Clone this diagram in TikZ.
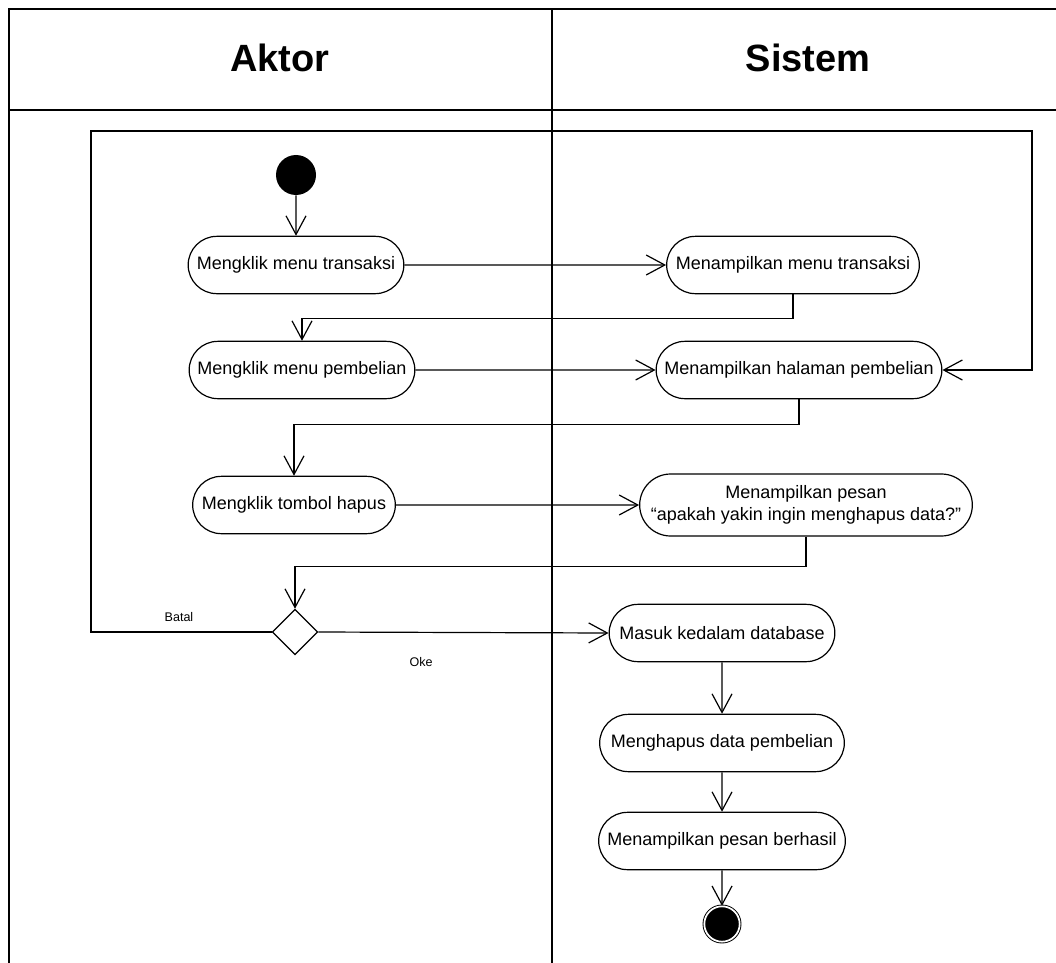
\documentclass[tikz,border=0pt]{standalone}
\usepackage{fontspec}
\setmainfont{Liberation Sans}
\usetikzlibrary{arrows.meta,shapes.misc,shapes.geometric}

\begin{document}
\begin{tikzpicture}[x=0.75pt,y=-0.75pt,
  aksi/.style={draw,rounded rectangle,line width=0.9pt,minimum height=43pt,inner xsep=2pt,
    font=\fontsize{13.5}{16}\selectfont,align=center},
  mulai/.style={circle,fill=black,minimum size=30pt,inner sep=0pt},
  akhir/.style={circle,draw,fill=black,double,double distance=1.3pt,line width=0.7pt,
    minimum size=26.5pt,inner sep=0pt},
  pilih/.style={diamond,draw,line width=0.9pt,minimum width=34pt,minimum height=34pt,inner sep=0pt},
  alur/.style={line width=0.9pt,-{Straight Barb[length=14pt,width=15pt]}},
  garis/.style={line width=1.1pt},
  judul/.style={font=\fontsize{28.5}{34}\selectfont\bfseries},
  ket/.style={font=\fontsize{9.4}{11}\selectfont}]

\useasboundingbox (0,0) rectangle (1056,963);

% swimlane
\draw[garis] (9,963) -- (9,9) -- (1056,9);
\draw[garis] (9,110) -- (1056,110);
\draw[garis] (552,9) -- (552,963);
\node[judul] (aktor) at (280,58) {Aktor};
\node[judul] (sistem) at (808,58) {Sistem};

% aktivitas
\node[mulai] (start) at (296,175) {};
\node[aksi,minimum width=165.75pt] (t1) at (296,265) {Mengklik menu transaksi};
\node[aksi,minimum width=193.5pt] (s1) at (793,265) {Menampilkan menu transaksi};
\node[aksi,minimum width=173.25pt] (t2) at (302,370) {Mengklik menu pembelian};
\node[aksi,minimum width=218.25pt] (s2) at (799,370) {Menampilkan halaman pembelian};
\node[aksi,minimum width=156pt] (t3) at (294,505) {Mengklik tombol hapus};
\node[aksi,minimum width=253.5pt,minimum height=46.5pt] (s3) at (806,505)
  {Menampilkan pesan\\``apakah yakin ingin menghapus data?''};
\node[pilih] (dec) at (295,632) {};
\node[aksi,minimum width=173.25pt] (m1) at (722,633) {Masuk kedalam database};
\node[aksi,minimum width=187.5pt] (m2) at (722,743) {Menghapus data pembelian};
\node[aksi,minimum width=189pt] (m3) at (722,841) {Menampilkan pesan berhasil};
\node[akhir] (stop) at (722,924) {};

\coordinate (loopL) at (91,131);
\coordinate (loopR) at (1032,131);

% alur
\draw[alur] (start) -- (t1);
\draw[alur] (t1) -- (s1);
\draw[alur] (s1.south) -- ++(0,24) -| (t2.north);
\draw[alur] (t2) -- (s2);
\draw[alur] (s2.south) -- ++(0,25) -| (t3.north);
\draw[alur] (t3) -- (s3);
\draw[alur] (s3.south) -- ++(0,30) -| (dec.north);
\draw[alur] (dec.west) -| (loopL) -- (loopR) |- (s2.east);
\draw[alur] (dec.east) -- (m1.west);
\draw[alur] (m1) -- (m2);
\draw[alur] (m2) -- (m3);
\draw[alur] (m3) -- (stop);

\node[ket] (batal) at (179,617) {Batal};
\node[ket] (oke) at (421,662) {Oke};
\end{tikzpicture}
\end{document}
